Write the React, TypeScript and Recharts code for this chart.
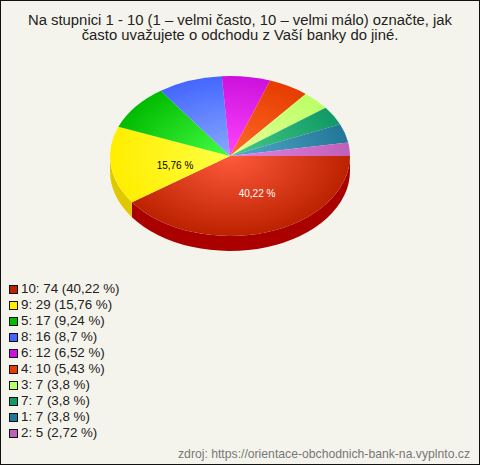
import React from 'react';
import { PieChart, Pie, Legend } from 'recharts';

const categories = ['10', '9', '5', '8', '6', '4', '3', '7', '1', '2'];
const counts = [74, 29, 17, 16, 12, 10, 7, 7, 7, 5];
const percents = ['40,22', '15,76', '9,24', '8,7', '6,52', '5,43', '3,8', '3,8', '3,8', '2,72'];
const baseColors = ['#bb2200', '#ffee00', '#00bb00', '#4466ff', '#cc11dd', '#e63c00', '#bbff66', '#119966', '#227799', '#c060b8'];
const lightColors = ['#ff5a3c', '#ffff44', '#44ff44', '#88aaff', '#ff44ff', '#ff6a2a', '#e6ff99', '#44cc88', '#55aacc', '#e484e4'];
const wallColors = ['#aa0000', '#e0c800', '#009900', '#3355cc', '#aa00aa', '#c03000', '#99cc55', '#0d7a50', '#1a6080', '#994488'];
const labelled = ['10', '9'];
const labelColors: Record<string, string> = { '10': '#ffffff', '9': '#000000' };
const labelNudge: Record<string, [number, number]> = { '10': [10, 2], '9': [1, 5] };
const titleLines = ['Na stupnici 1 - 10 (1 – velmi často, 10 – velmi málo) označte, jak', 'často uvažujete o odchodu z Vaší banky do jiné.'];
const sourceText = 'zdroj: https://orientace-obchodnich-bank-na.vyplnto.cz';

const SQUASH = 2 / 3;
const DEPTH = 15;
const RAD = Math.PI / 180;

const rows = categories.map((c, i) => ({
  key: c,
  name: `${c}: ${counts[i]} (${percents[i]} %)`,
  value: counts[i],
  fill: baseColors[i],
  light: lightColors[i],
  wall: wallColors[i],
}));

function EllipseSector(props: any) {
  const { cx, cy, outerRadius, startAngle, endAngle, fill, payload } = props;
  const rx = outerRadius;
  const ry = outerRadius * SQUASH;
  const a0 = Math.min(startAngle, endAngle);
  const a1 = Math.max(startAngle, endAngle);
  const pt = (a: number) => [cx + rx * Math.cos(a * RAD), cy - ry * Math.sin(a * RAD)];
  const [sx, sy] = pt(a1);
  const [ex, ey] = pt(a0);
  const large = a1 - a0 > 180 ? 1 : 0;
  const top = `M${cx},${cy} L${sx},${sy} A${rx},${ry} 0 ${large} 1 ${ex},${ey} Z`;
  const w1 = Math.min(a1, 0);
  const w0 = Math.max(a0, -180);
  let wall: string | null = null;
  if (w1 > w0) {
    const [ax, ay] = pt(w1);
    const [bx, by] = pt(w0);
    wall = `M${ax},${ay} A${rx},${ry} 0 0 1 ${bx},${by} L${bx},${by + DEPTH} A${rx},${ry} 0 0 0 ${ax},${ay + DEPTH} Z`;
  }
  const gid = `grad-${payload.key}`;
  return (
    <g>
      <defs>
        <radialGradient id={gid} gradientUnits="userSpaceOnUse" cx={0} cy={0} r={1}
          gradientTransform={`translate(${cx},${cy}) scale(${rx},${ry})`}>
          <stop offset="0%" stopColor={payload.light} />
          <stop offset="100%" stopColor={fill} />
        </radialGradient>
      </defs>
      {wall && <path d={wall} fill={payload.wall} />}
      <path d={top} fill={`url(#${gid})`} />
    </g>
  );
}

function SliceLabel(props: any) {
  const { cx, cy, outerRadius, midAngle, payload, percent } = props;
  if (!labelled.includes(payload.key)) return null;
  const r = outerRadius * 0.47;
  const [nx, ny] = labelNudge[payload.key];
  const x = cx + r * Math.cos(midAngle * RAD) + nx;
  const y = cy - r * SQUASH * Math.sin(midAngle * RAD) + ny;
  return (
    <text x={x} y={y} textAnchor="middle" dominantBaseline="central"
      fontFamily="'Liberation Sans', Arial" fontSize={10} fill={labelColors[payload.key]}>
      {(percent * 100).toFixed(2).replace('.', ',')} %
    </text>
  );
}

function LegendRows({ payload }: any) {
  const swatchBase = (c: string) => baseColors[rows.findIndex((r) => r.fill === c)] ?? c;
  return (
    <div style={{ fontFamily: "'Liberation Sans', Arial", fontSize: 13.33, color: '#222', textAlign: 'left' }}>
      {(payload ?? []).map((p: any) => (
        <div key={p.value} style={{ height: 16, lineHeight: '16px', display: 'flex', alignItems: 'center', whiteSpace: 'nowrap' }}>
          <span style={{ width: 7, height: 7, border: '1px solid #111', background: swatchBase(p.color), marginRight: 3, flex: 'none', boxSizing: 'content-box' }} />
          {p.value}
        </div>
      ))}
    </div>
  );
}

export default function App() {
  return (
    <div style={{ position: 'absolute', left: 0, top: 0, width: 480, height: 465, boxSizing: 'border-box', border: '1px solid #111', background: '#f5f4ec', overflow: 'hidden' }}>
      <div style={{ position: 'absolute', left: -1, top: -1 }}>
        <PieChart width={480} height={465} margin={{ top: 0, right: 0, bottom: 0, left: 0 }}>
          <text textAnchor="middle" fontFamily="'Liberation Sans', Arial" fontSize={14.85} fill="#222">
            <tspan x={240} y={25}>{titleLines[0]}</tspan>
            <tspan x={240} y={40}>{titleLines[1]}</tspan>
          </text>
          <Pie
            data={rows}
            dataKey="value"
            nameKey="name"
            cx={230}
            cy={156}
            innerRadius={0}
            outerRadius={120}
            startAngle={0}
            endAngle={-360}
            stroke="none"
            isAnimationActive={false}
            labelLine={false}
            label={SliceLabel}
            shape={EllipseSector}
          />
          <Legend
            layout="horizontal"
            align="center"
            verticalAlign="middle"
            itemSorter={null}
            content={LegendRows}
            wrapperStyle={{ left: 9, top: 281, width: 200 }}
          />
          <text x={470} y={458} textAnchor="end" fontFamily="'Liberation Sans', Arial" fontSize={12.2} fill="#777">{sourceText}</text>
        </PieChart>
      </div>
    </div>
  );
}
